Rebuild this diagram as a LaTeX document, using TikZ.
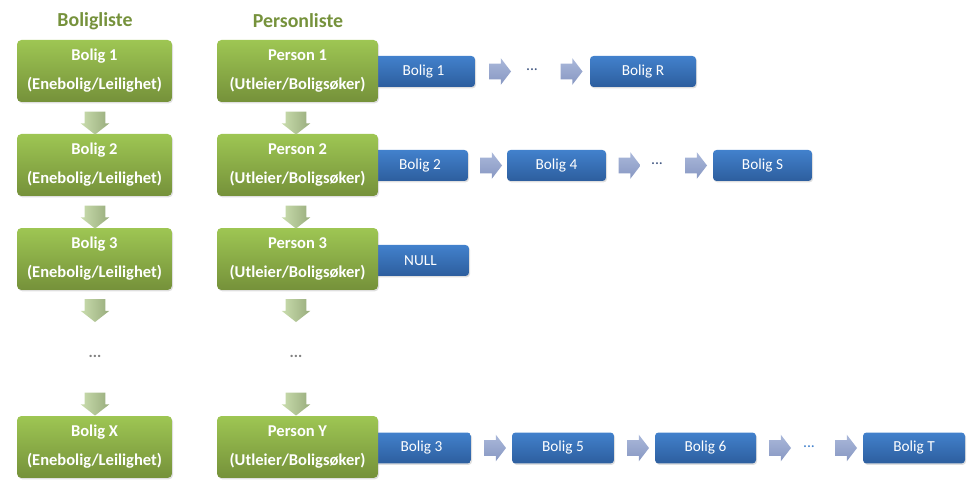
\documentclass[tikz,border=0pt]{standalone}
\usepackage{fontspec}
\setmainfont{Carlito}
\usetikzlibrary{shapes.arrows,shadows}

\definecolor{headgreen}{HTML}{76923C}
\definecolor{greentop}{HTML}{9EC653}
\definecolor{greenbot}{HTML}{75913A}
\definecolor{bluetop}{HTML}{4281CC}
\definecolor{bluebot}{HTML}{2D5E9E}
\definecolor{arrtop}{HTML}{AAB8DA}
\definecolor{arrbot}{HTML}{8797C2}
\definecolor{dartop}{HTML}{CADDAE}
\definecolor{darbot}{HTML}{98AC7C}
\definecolor{dotcol}{HTML}{3F5580}

\begin{document}
\begin{tikzpicture}[x=0.02cm,y=-0.02cm,
    header/.style={text=headgreen,font=\fontsize{11.3}{13}\selectfont\bfseries},
    greenbox/.style={rounded corners=2.5pt,top color=greentop,bottom color=greenbot,
      text=white,align=center,minimum height=1.24cm,inner sep=0pt,
      font=\fontsize{9.4}{16.5}\selectfont\bfseries,
      drop shadow={opacity=0.25,shadow xshift=0.6pt,shadow yshift=-0.8pt}},
    bolig/.style={greenbox,minimum width=3.1cm},
    person/.style={greenbox,minimum width=3.22cm},
    bluebox/.style={rounded corners=2pt,top color=bluetop,bottom color=bluebot,
      text=white,minimum height=0.62cm,inner sep=0pt,
      font=\fontsize{8.7}{10}\selectfont,
      drop shadow={opacity=0.25,shadow xshift=0.6pt,shadow yshift=-0.8pt}},
    rarrow/.style={single arrow,single arrow head extend=0.11cm,single arrow tip angle=105,
      minimum height=0.44cm,inner xsep=0pt,inner ysep=0.15cm,
      top color=arrtop,bottom color=arrbot},
    darrow/.style={single arrow,rotate=-90,single arrow head extend=0.08cm,single arrow tip angle=104,
      minimum height=0.46cm,inner xsep=0pt,inner ysep=0.2cm,
      left color=dartop,right color=darbot},
    dots/.style={text=dotcol,font=\fontsize{9}{10}\selectfont}]
  \useasboundingbox (0,0) rectangle (973,492);

  % headers
  \node[header] (boligliste) at (95,21) {Boligliste};
  \node[header] (personliste) at (298,21) {Personliste};

  % blue lists (drawn first, the green boxes cover their left ends)
  \node[bluebox,minimum width=2.06cm] (r1a) at (423.5,71.5) {Bolig 1};
  \node[rarrow] (r1p) at (497,71.5) {};
  \node[dots] (r1d) at (532,70) {...};
  \node[rarrow] (r1q) at (568.5,71.5) {};
  \node[bluebox,minimum width=2.12cm] (r1b) at (643,71.5) {Bolig R};

  \node[bluebox,minimum width=1.92cm] (r2a) at (420,165.5) {Bolig 2};
  \node[rarrow] (r2p) at (488,165.5) {};
  \node[bluebox,minimum width=1.98cm] (r2b) at (556.5,165.5) {Bolig 4};
  \node[rarrow] (r2q) at (626.5,165.5) {};
  \node[dots] (r2d) at (657,164) {...};
  \node[rarrow] (r2r) at (693,165.5) {};
  \node[bluebox,minimum width=1.98cm] (r2c) at (762.5,165.5) {Bolig S};

  \node[bluebox,minimum width=1.94cm] (r3a) at (420.5,260.5) {NULL};

  \node[bluebox,minimum width=1.98cm] (r4a) at (421.5,448) {Bolig 3};
  \node[rarrow] (r4p) at (492,448) {};
  \node[bluebox,minimum width=2.04cm] (r4b) at (563,448) {Bolig 5};
  \node[rarrow] (r4q) at (635,448) {};
  \node[bluebox,minimum width=2.02cm] (r4c) at (705.5,448) {Bolig 6};
  \node[rarrow] (r4r) at (777,448) {};
  \node[dots,text=bluetop] (r4d) at (809,447) {...};
  \node[rarrow] (r4s) at (843,448) {};
  \node[bluebox,minimum width=2.04cm] (r4e) at (914,448) {Bolig T};

  % boligliste
  \node[bolig] (bolig1) at (94.5,71) {Bolig 1\\(Enebolig/Leilighet)};
  \node[bolig] (bolig2) at (94.5,165) {Bolig 2\\(Enebolig/Leilighet)};
  \node[bolig] (bolig3) at (94.5,259) {Bolig 3\\(Enebolig/Leilighet)};
  \node[bolig] (boligx) at (94.5,447) {Bolig X\\(Enebolig/Leilighet)};
  \node[dots,text=gray] (boligd) at (95,356) {\bfseries ...};

  % personliste
  \node[person] (person1) at (297.5,71) {Person 1\\(Utleier/Boligsøker)};
  \node[person] (person2) at (297.5,165) {Person 2\\(Utleier/Boligsøker)};
  \node[person] (person3) at (297.5,259) {Person 3\\(Utleier/Boligsøker)};
  \node[person] (persony) at (297.5,447) {Person Y\\(Utleier/Boligsøker)};
  \node[dots,text=gray] (persond) at (296,356) {\bfseries ...};

  % down arrows
  \foreach \y in {119,213,306.5,400}{
    \node[darrow] at (95,\y) {};
    \node[darrow] at (296,\y) {};
  }
\end{tikzpicture}
\end{document}
